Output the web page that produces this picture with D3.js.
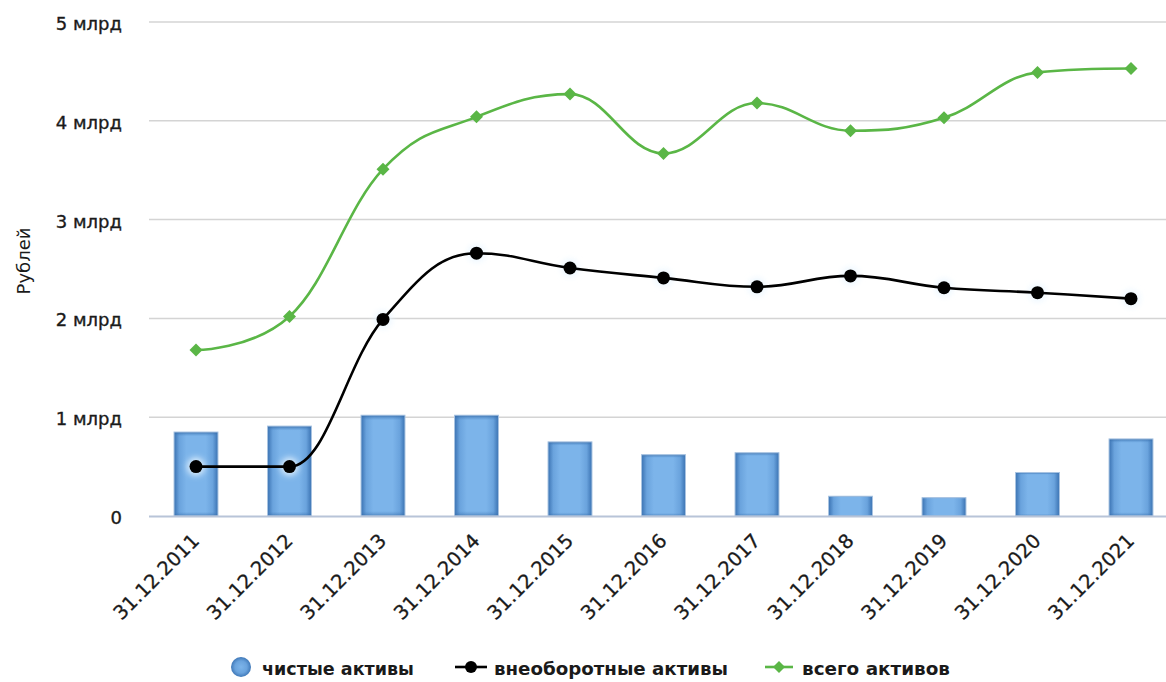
<!DOCTYPE html>
<html>
<head>
<meta charset="utf-8">
<script src="https://cdn.jsdelivr.net/npm/d3@7"></script>
<style>
html,body{margin:0;padding:0;background:#fff;}
svg{display:block;font-family:"DejaVu Sans",Verdana,sans-serif;}
</style>
</head>
<body>
<svg id="chart" width="1166" height="682"></svg>
<script>
const categories = ["31.12.2011","31.12.2012","31.12.2013","31.12.2014","31.12.2015","31.12.2016","31.12.2017","31.12.2018","31.12.2019","31.12.2020","31.12.2021"];
// values in billions of rubles
const netAssets     = [0.85, 0.91, 1.02, 1.02, 0.75, 0.62, 0.64, 0.20, 0.185, 0.44, 0.78];
const nonCurrent    = [0.50, 0.50, 1.99, 2.66, 2.51, 2.41, 2.32, 2.43, 2.31, 2.26, 2.20];
const totalAssets   = [1.68, 2.02, 3.51, 4.04, 4.27, 3.67, 4.18, 3.90, 4.03, 4.49, 4.53];
const yTicks = [0, 1, 2, 3, 4, 5];
const yTickLabels = ["0", "1 млрд", "2 млрд", "3 млрд", "4 млрд", "5 млрд"];
const seriesNames = ["чистые активы", "внеоборотные активы", "всего активов"];
const yTitle = "Рублей";

const svg = d3.select("#chart");
const defs = svg.append("defs");

const x = d3.scalePoint().domain(categories).range([149.25, 1177.75]).padding(0.5);
const y = d3.scaleLinear().domain([0, 5]).range([516, 22]);
const step = x.step();
const barW = step * 0.47;
const ink = "#1a1a1a";

// gradients for bars
const gh = defs.append("linearGradient").attr("id","barH").attr("x1","0").attr("x2","1").attr("y1","0").attr("y2","0");
[["0%","#3a72b2"],["12%","#6aa3dd"],["28%","#7cb4ea"],["72%","#7cb4ea"],["88%","#6aa3dd"],["100%","#3a72b2"]]
  .forEach(([o,c])=>gh.append("stop").attr("offset",o).attr("stop-color",c));
const gv = defs.append("linearGradient").attr("id","barV").attr("x1","0").attr("x2","0").attr("y1","0").attr("y2","1");
[["0%","#2f63a0",0.8],["5%","#4a86c5",0.0],["95%","#4a86c5",0.0],["100%","#2f63a0",0.6]]
  .forEach(([o,c,a])=>gv.append("stop").attr("offset",o).attr("stop-color",c).attr("stop-opacity",a));
const gl = defs.append("radialGradient").attr("id","legendBlue");
gl.append("stop").attr("offset","0%").attr("stop-color","#7cb4ea");
gl.append("stop").attr("offset","60%").attr("stop-color","#6aa3dd");
gl.append("stop").attr("offset","100%").attr("stop-color","#3f78b8");
const glow = defs.append("filter").attr("id","glow").attr("x","-1").attr("y","-1").attr("width","3").attr("height","3");
glow.append("feGaussianBlur").attr("stdDeviation","3");

// gridlines
svg.append("g").selectAll("line").data(yTicks.filter(d=>d>0)).join("line")
  .attr("x1",149).attr("x2",1180).attr("y1",d=>y(d)).attr("y2",d=>y(d))
  .attr("stroke","#d4d4d4").attr("stroke-width",1.5);

// y axis labels
const yAxis = d3.axisLeft(y).tickValues(yTicks).tickSize(0).tickPadding(0)
  .tickFormat((d,i)=>yTickLabels[i]);
const yg = svg.append("g").attr("transform","translate(122,0)").call(yAxis);
yg.select(".domain").remove();
yg.selectAll("text").attr("font-size",18).attr("fill",ink).attr("stroke",ink).attr("stroke-width",0.35)
  .attr("dy","0.42em").attr("font-family","DejaVu Sans, sans-serif");

// y title
svg.append("text").attr("transform","translate(30,261) rotate(-90)")
  .attr("text-anchor","middle").attr("font-size",18).attr("fill",ink).text(yTitle);

// bars
svg.append("g").selectAll("g").data(netAssets).join("g").each(function(d,i){
  const g = d3.select(this);
  const bx = x(categories[i]) - barW/2, by = y(d), bh = y(0) - y(d);
  g.append("rect").attr("x",bx).attr("y",by).attr("width",barW).attr("height",bh).attr("fill","url(#barH)");
  g.append("rect").attr("x",bx).attr("y",by).attr("width",barW).attr("height",bh).attr("fill","url(#barV)")
   .attr("stroke","#a9c4e2").attr("stroke-width",1);
});

// x axis line
svg.append("line").attr("x1",149).attr("x2",1180).attr("y1",y(0)+0.5).attr("y2",y(0)+0.5)
  .attr("stroke","#b8c4d8").attr("stroke-width",2);

// x axis labels
const xAxis = d3.axisBottom(x).tickSize(0).tickPadding(0);
const xg = svg.append("g").attr("transform",`translate(0,${y(0)})`).call(xAxis);
xg.select(".domain").remove();
xg.selectAll("text")
  .attr("font-size",19.5).attr("fill",ink).attr("stroke",ink).attr("stroke-width",0.3)
  .attr("font-family","DejaVu Sans, sans-serif")
  .attr("text-anchor","end").attr("dy",0).attr("y",0)
  .attr("transform","translate(4,26) rotate(-45)");

// Highcharts-style spline
function splinePath(pts){
  const s = 1.5, dnm = s + 1, n = pts.length;
  const lc = new Array(n), rc = new Array(n);
  for(let i=1;i<n-1;i++){
    const [lx,ly]=pts[i-1],[px,py]=pts[i],[nx,ny]=pts[i+1];
    let lcx=(s*px+lx)/dnm, lcy=(s*py+ly)/dnm, rcx=(s*px+nx)/dnm, rcy=(s*py+ny)/dnm;
    if(rcx!==lcx){ const c=((rcy-lcy)*(rcx-px))/(rcx-lcx)+py-rcy; lcy+=c; rcy+=c; }
    if(lcy>ly && lcy>py){ lcy=Math.max(ly,py); rcy=2*py-lcy; }
    else if(lcy<ly && lcy<py){ lcy=Math.min(ly,py); rcy=2*py-lcy; }
    if(rcy>ny && rcy>py){ rcy=Math.max(ny,py); lcy=2*py-rcy; }
    else if(rcy<ny && rcy<py){ rcy=Math.min(ny,py); lcy=2*py-rcy; }
    lc[i]=[lcx,lcy]; rc[i]=[rcx,rcy];
  }
  const p = d3.path();
  p.moveTo(pts[0][0],pts[0][1]);
  for(let i=1;i<n;i++){
    const a = rc[i-1]||pts[i-1], b = lc[i]||pts[i];
    p.bezierCurveTo(a[0],a[1],b[0],b[1],pts[i][0],pts[i][1]);
  }
  return p.toString();
}

const ptsBlack = nonCurrent.map((v,i)=>[x(categories[i]), y(v)]);
const ptsGreen = totalAssets.map((v,i)=>[x(categories[i]), y(v)]);

// black series
svg.append("g").selectAll("circle.glow").data(ptsBlack).join("circle")
  .attr("cx",d=>d[0]).attr("cy",d=>d[1]).attr("r",9).attr("fill","#eaf6ff").attr("opacity",0.9).attr("filter","url(#glow)");
svg.append("path").attr("d",splinePath(ptsBlack)).attr("fill","none").attr("stroke","#000").attr("stroke-width",2.6);
svg.append("g").selectAll("circle").data(ptsBlack).join("circle")
  .attr("cx",d=>d[0]).attr("cy",d=>d[1]).attr("r",6.5).attr("fill","#000");

// green series
const green = "#5ab646";
svg.append("path").attr("d",splinePath(ptsGreen)).attr("fill","none").attr("stroke",green).attr("stroke-width",2.6);
const diamond = (cx,cy,r)=>`M${cx},${cy-r}L${cx+r},${cy}L${cx},${cy+r}L${cx-r},${cy}Z`;
svg.append("g").selectAll("path").data(ptsGreen).join("path")
  .attr("d",d=>diamond(d[0],d[1],6.5)).attr("fill",green);

// legend
const lg = svg.append("g").attr("font-family","DejaVu Sans, sans-serif").attr("font-weight","bold").attr("font-size",18).attr("fill",ink);
const ly = 667;
lg.append("circle").attr("cx",241).attr("cy",ly).attr("r",10).attr("fill","url(#legendBlue)");
lg.append("text").attr("x",262).attr("y",ly+8).attr("textLength",152).attr("lengthAdjust","spacingAndGlyphs").text(seriesNames[0]);
lg.append("line").attr("x1",455).attr("x2",487).attr("y1",ly).attr("y2",ly).attr("stroke","#000").attr("stroke-width",2.6);
lg.append("circle").attr("cx",471).attr("cy",ly).attr("r",6).attr("fill","#000");
lg.append("text").attr("x",494).attr("y",ly+8).attr("textLength",234).attr("lengthAdjust","spacingAndGlyphs").text(seriesNames[1]);
lg.append("line").attr("x1",765).attr("x2",793).attr("y1",ly).attr("y2",ly).attr("stroke",green).attr("stroke-width",2.6);
lg.append("path").attr("d",diamond(779,ly,6)).attr("fill",green);
lg.append("text").attr("x",802).attr("y",ly+8).attr("textLength",148).attr("lengthAdjust","spacingAndGlyphs").text(seriesNames[2]);
</script>
</body>
</html>
